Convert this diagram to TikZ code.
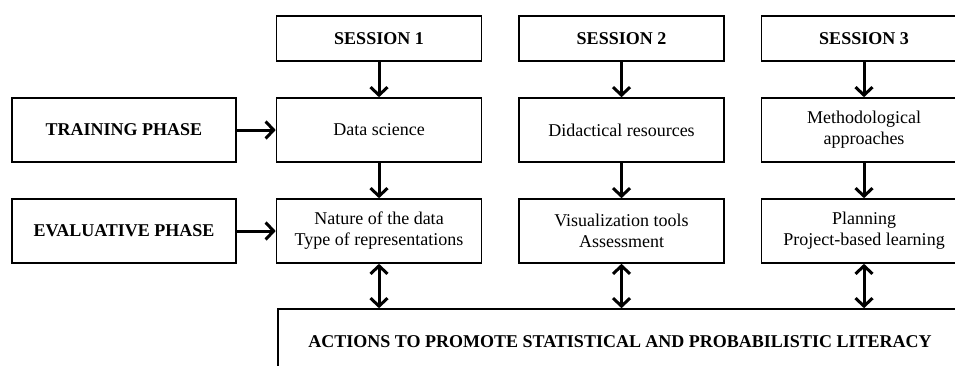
\documentclass[tikz,border=0pt]{standalone}
\usepackage{fontspec}
\setmainfont{Liberation Serif}
\usetikzlibrary{positioning}
\usetikzlibrary{arrows.meta}

\begin{document}
\begin{tikzpicture}[x=1pt, y=-1pt,
    box/.style={draw, rectangle, line width=1.6pt, minimum width=205pt, minimum height=64pt, align=center, inner sep=0pt, font=\fontsize{18}{21}\selectfont},
    sessionbox/.style={box, minimum height=45pt, font=\fontsize{18}{21}\selectfont\bfseries},
    phasebox/.style={box, minimum width=224pt, font=\fontsize{18}{21}\selectfont\bfseries},
    link/.style={line width=3pt, -{Straight Barb[length=8pt,width=17pt]}},
    duallink/.style={line width=3pt, {Straight Barb[length=8pt,width=17pt]}-{Straight Barb[length=8pt,width=17pt]}}]
    \useasboundingbox (0,0) rectangle (955,365);
    \clip (0,0) rectangle (955,365);
    % three sessions of the training programme
    \node[sessionbox] (s1) at (379,38.5) {SESSION 1};
    \node[sessionbox] (s2) at (621.5,38.5) {SESSION 2};
    \node[sessionbox] (s3) at (864,38.5) {SESSION 3};

    \node[phasebox] (train) at (124,130) {TRAINING PHASE};
    \node[box] (ds) at (379,130) {Data science};
    \node[box] (did) at (621.5,130) {Didactical resources};
    \node[box] (meth) at (864,130) {Methodological\\approaches};

    \node[phasebox] (eval) at (124,231) {EVALUATIVE PHASE};
    \node[box] (nat) at (379,231) {Nature of the data\\Type of representations};
    \node[box] (vis) at (621.5,231) {Visualization tools\\Assessment};
    \node[box] (plan) at (864,231) {Planning\\Project-based learning};

    \node[box, minimum width=684pt, minimum height=66pt, font=\fontsize{18}{21}\selectfont\bfseries] (act) at (620,342) {ACTIONS TO PROMOTE STATISTICAL AND PROBABILISTIC LITERACY};

    \draw[link] (s1) -- (ds);
    \draw[link] (s2) -- (did);
    \draw[link] (s3) -- (meth);
    \draw[link] (ds) -- (nat);
    \draw[link] (did) -- (vis);
    \draw[link] (meth) -- (plan);
    \draw[link] (train) -- (ds);
    \draw[link] (eval) -- (nat);

    \draw[duallink] (nat.south) -- (nat.south |- act.north);
    \draw[duallink] (vis.south) -- (vis.south |- act.north);
    \draw[duallink] (plan.south) -- (plan.south |- act.north);
\end{tikzpicture}
\end{document}
